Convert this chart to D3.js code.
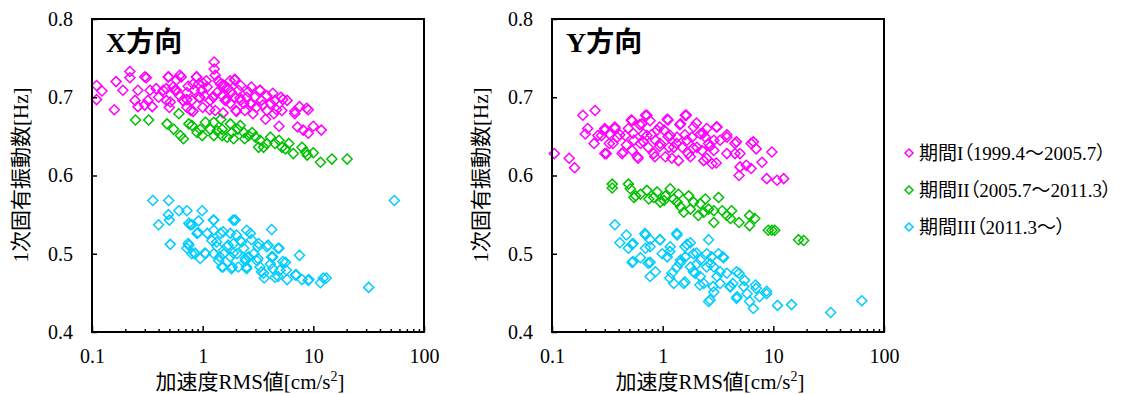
<!DOCTYPE html>
<html lang="ja">
<head>
  <meta charset="UTF-8">
  <title>1次固有振動数</title>
  <script src="https://d3js.org/d3.v7.min.js"></script>
  <style>
    body { margin: 0; background: #fff; }
    text { font-family: "Liberation Serif", "Noto Sans CJK JP", serif; }
    .legend text { font-feature-settings: "palt"; }
  </style>
</head>
<body>
  <svg width="1137" height="394"></svg>

  <script>
    // 期間ごとのデータ [加速度RMS値, 1次固有振動数]
    const xPeriod1 = [
      [0.11,0.715],[0.123,0.708],[0.11,0.697],[0.159,0.684],[0.165,0.72],[0.19,0.709],[0.22,0.733],[0.22,0.725],
      [0.245,0.696],[0.26,0.709],[0.26,0.688],[0.30,0.726],[0.31,0.725],[0.30,0.69],[0.32,0.696],[0.35,0.688],
      [0.335,0.709],[0.40,0.70],[0.44,0.709],[0.49,0.726],[0.47,0.696],[0.50,0.687],[0.56,0.709],[0.58,0.722],
      [0.64,0.726],[0.66,0.696],[0.72,0.706],[0.78,0.683],[0.80,0.696],[0.88,0.726],[0.92,0.717],[0.94,0.70],
      [1.0,0.687],[0.98,0.709],[1.1,0.713],[1.17,0.696],[1.27,0.745],[1.27,0.736],[1.30,0.728],[1.38,0.721],
      [1.35,0.706],[1.30,0.683],[1.50,0.702],[1.57,0.713],[1.77,0.692],[1.70,0.711],[1.95,0.723],[1.95,0.70],
      [2.0,0.683],[2.2,0.715],[2.2,0.696],[2.4,0.683],[2.5,0.70],[2.7,0.692],[2.85,0.679],[3.05,0.687],
      [3.3,0.709],[3.4,0.696],[3.8,0.702],[3.8,0.683],[3.7,0.672],[4.4,0.679],[4.5,0.696],[4.9,0.663],
      [5.1,0.70],[5.8,0.696],[5.2,0.683],[6.8,0.679],[7.5,0.688],[7.2,0.662],[8.1,0.658],[9.0,0.684],
      [9.0,0.654],[10,0.663],[11.8,0.658],
      [0.72,0.687],[0.82,0.717],[1.08,0.721],[1.25,0.70],[1.45,0.717],[1.6,0.696],[1.82,0.706],[2.1,0.709],
      [2.35,0.692],[2.75,0.713],[1.04,0.702],[0.38,0.711],[0.54,0.713],[0.62,0.702],[0.84,0.709],[1.77,0.721],
      [2.95,0.70],[4.1,0.692],
      [0.49,0.726],[0.62,0.728],[0.88,0.726],[0.47,0.711],[0.58,0.709],[0.74,0.714],[1.01,0.718],[1.53,0.716],
      [1.95,0.722],[2.58,0.707],[3.3,0.709],[4.3,0.705],[5.3,0.697],[0.51,0.694],[0.72,0.697],[0.94,0.699],
      [1.25,0.701],[1.64,0.697],[2.17,0.699],[2.77,0.692],[3.5,0.690],[4.65,0.684],[0.82,0.682],[1.16,0.684],
      [1.53,0.680],[2.02,0.682],[6.8,0.682],[8.7,0.686]
    ];
    const xPeriod2 = [
      [0.247,0.671],[0.325,0.671],[0.476,0.666],[0.547,0.659],[0.61,0.679],[0.63,0.651],[0.75,0.666],[0.80,0.664],
      [0.95,0.659],[0.99,0.651],[1.06,0.668],[1.17,0.659],[1.26,0.668],[1.46,0.672],[1.5,0.659],[1.5,0.651],
      [1.78,0.666],[1.84,0.655],[1.9,0.647],[2.07,0.659],[2.19,0.664],[2.35,0.655],[2.4,0.647],[2.6,0.651],
      [3.0,0.649],[3.2,0.636],[3.3,0.645],[3.8,0.641],[4.1,0.649],[4.5,0.641],[4.9,0.645],[5.2,0.636],
      [6.0,0.641],[6.6,0.628],[7.9,0.636],[8.5,0.630],[8.8,0.626],[10,0.629],[11.6,0.617],[14.7,0.621],
      [20.2,0.621],
      [0.67,0.647],[0.89,0.655],[1.35,0.657],[1.66,0.649],[2.8,0.655],[3.55,0.636],[5.6,0.634],[1.26,0.651]
    ];
    const xPeriod3 = [
      [0.355,0.568],[0.493,0.568],[0.40,0.537],[0.49,0.550],[0.50,0.543],[0.51,0.512],[0.61,0.555],[0.72,0.555],
      [0.75,0.539],[0.75,0.511],[0.80,0.537],[0.80,0.50],[0.89,0.526],[0.92,0.542],[0.99,0.555],[0.95,0.494],
      [1.06,0.50],[1.21,0.517],[1.26,0.543],[1.26,0.50],[1.45,0.526],[1.53,0.483],[1.66,0.509],[1.78,0.526],
      [1.85,0.483],[1.97,0.543],[2.04,0.50],[2.19,0.517],[2.43,0.491],[2.5,0.483],[2.7,0.526],[2.9,0.50],
      [3.2,0.513],[3.3,0.483],[3.55,0.475],[3.8,0.509],[4.2,0.531],[4.1,0.487],[4.5,0.47],[4.9,0.507],
      [5.0,0.479],[5.6,0.489],[5.8,0.467],[6.9,0.473],[7.5,0.498],[7.9,0.467],[9.1,0.467],[11.6,0.463],
      [13.1,0.469],[31.6,0.457],[54,0.568],
      [1.35,0.509],[1.55,0.50],[1.78,0.496],[1.9,0.513],[2.35,0.507],[2.6,0.496],[1.4,0.491],[1.1,0.526],
      [0.72,0.507],[0.85,0.50],[3.1,0.491],[4.3,0.496],[2.1,0.483],[1.26,0.530],
      [0.77,0.537],[0.91,0.527],[1.25,0.543],[1.89,0.543],[1.53,0.528],[2.02,0.524],[2.5,0.530],[1.34,0.515],
      [1.7,0.511],[2.25,0.515],[2.77,0.518],[3.16,0.509],[3.9,0.511],[4.8,0.507],[0.74,0.513],[0.85,0.501],
      [1.05,0.501],[1.43,0.496],[1.89,0.501],[2.42,0.494],[3.16,0.494],[4.2,0.496],[5.3,0.490],[1.49,0.483],
      [1.82,0.481],[2.5,0.481],[3.4,0.477],[4.3,0.481],[5.7,0.479],[7.0,0.473],[9.0,0.466],[12.3,0.469],
      [4.8,0.471],[3.6,0.469]
    ];
    const yPeriod1 = [
      [0.105,0.628],[0.143,0.622],[0.16,0.610],[0.19,0.677],[0.245,0.683],[0.20,0.653],[0.21,0.66],[0.24,0.641],
      [0.26,0.651],[0.30,0.66],[0.30,0.628],[0.355,0.641],[0.37,0.66],[0.43,0.628],[0.46,0.651],[0.49,0.66],
      [0.53,0.670],[0.59,0.624],[0.63,0.641],[0.65,0.666],[0.70,0.677],[0.72,0.651],[0.77,0.670],[0.83,0.628],
      [0.89,0.658],[0.95,0.641],[1.06,0.624],[1.1,0.672],[1.17,0.651],[1.26,0.636],[1.39,0.619],[1.45,0.666],
      [1.6,0.677],[1.66,0.645],[1.78,0.624],[1.9,0.662],[2.04,0.636],[2.19,0.653],[2.35,0.619],[2.5,0.66],
      [2.6,0.641],[2.8,0.615],[2.9,0.632],[3.1,0.662],[3.3,0.645],[3.8,0.649],[3.8,0.628],[4.5,0.641],
      [5.0,0.628],[5.0,0.611],[4.9,0.60],[6.3,0.641],[6.3,0.609],[7.0,0.634],[7.9,0.617],[8.7,0.596],
      [9.7,0.630],[10.8,0.594],[12.4,0.596],
      [0.28,0.651],[0.33,0.653],[0.39,0.649],[0.55,0.645],[0.67,0.653],[0.86,0.645],[1.03,0.658],[1.14,0.636],
      [1.35,0.649],[1.5,0.636],[1.84,0.649],[2.27,0.632],[2.43,0.649],[2.9,0.645],[0.74,0.636],[0.53,0.632],
      [0.52,0.671],[0.72,0.677],[1.12,0.671],[1.64,0.677],[0.30,0.658],[0.37,0.662],[0.62,0.665],[0.94,0.662],
      [1.43,0.665],[2.02,0.667],[3.05,0.662],[0.41,0.652],[0.54,0.654],[0.79,0.652],[1.12,0.650],[1.59,0.652],
      [2.32,0.654],[3.8,0.652],[4.65,0.643],[0.33,0.641],[0.47,0.639],[0.67,0.643],[0.94,0.637],[1.34,0.641],
      [1.89,0.635],[2.68,0.637],[6.6,0.643],[0.31,0.628],[0.44,0.630],[0.60,0.622],[0.85,0.624],[1.21,0.622],
      [1.70,0.628],[2.5,0.622],[3.05,0.616],[4.5,0.628],[5.7,0.613]
    ];
    const yPeriod2 = [
      [0.35,0.589],[0.35,0.584],[0.49,0.589],[0.51,0.583],[0.55,0.572],[0.63,0.576],[0.72,0.581],[0.75,0.570],
      [0.89,0.579],[0.95,0.566],[1.06,0.574],[1.17,0.583],[1.26,0.570],[1.39,0.576],[1.45,0.560],[1.55,0.553],
      [1.72,0.574],[1.78,0.557],[1.9,0.566],[2.1,0.549],[2.19,0.564],[2.43,0.570],[2.6,0.557],[2.9,0.540],
      [3.2,0.572],[3.45,0.555],[3.8,0.549],[4.2,0.555],[4.9,0.540],[6.1,0.549],[6.1,0.536],[6.8,0.545],
      [9.0,0.530],[9.7,0.530],[10.3,0.530],[16.9,0.518],[18.8,0.517],
      [0.83,0.572],[1.03,0.568],[1.35,0.566],[2.35,0.553],[2.9,0.555],[0.57,0.574],[4.1,0.545]
    ];
    const yPeriod3 = [
      [0.37,0.537],[0.41,0.514],[0.47,0.524],[0.49,0.507],[0.53,0.512],[0.53,0.489],[0.63,0.495],[0.70,0.524],
      [0.70,0.507],[0.77,0.518],[0.77,0.489],[0.77,0.471],[0.86,0.477],[0.95,0.518],[0.99,0.50],[1.17,0.509],
      [1.21,0.475],[1.26,0.462],[1.35,0.524],[1.45,0.492],[1.55,0.462],[1.66,0.512],[1.78,0.483],[1.9,0.50],
      [1.97,0.475],[2.19,0.492],[2.35,0.462],[2.6,0.518],[2.6,0.439],[2.7,0.487],[2.9,0.451],[3.1,0.471],
      [3.55,0.495],[3.8,0.475],[4.1,0.458],[4.7,0.445],[4.9,0.475],[5.4,0.458],[5.8,0.449],[6.6,0.430],
      [6.9,0.460],[7.5,0.445],[8.7,0.449],[10.9,0.434],[14.6,0.435],[33,0.425],[63,0.440],
      [1.1,0.496],[1.35,0.483],[1.6,0.496],[2.04,0.487],[2.19,0.471],[2.9,0.483],[3.3,0.462],[4.3,0.462],
      [1.78,0.514],[2.5,0.50],[3.2,0.50],
      [0.69,0.526],[0.94,0.518],[1.34,0.526],[0.54,0.513],[0.77,0.509],[1.16,0.503],[1.59,0.509],[2.02,0.501],
      [2.77,0.496],[3.5,0.496],[0.54,0.490],[0.74,0.488],[1.43,0.488],[1.89,0.477],[2.5,0.483],[3.3,0.477],
      [4.65,0.477],[1.16,0.469],[1.59,0.464],[2.17,0.460],[2.85,0.458],[4.05,0.458],[5.5,0.466],[7.0,0.456],
      [2.68,0.441],[4.65,0.443],[6.1,0.439],[8.7,0.452]
    ];

    const seriesNames = ['期間I（1999.4～2005.7）', '期間II（2005.7～2011.3）', '期間III（2011.3～）'];
    const seriesColors = ['#ff00ff', '#00c000', '#00ccff'];
    const panelTitles = ['X方向', 'Y方向'];
    const xTicks = [0.1, 1, 10, 100];
    const yTicks = [0.4, 0.5, 0.6, 0.7, 0.8];

    const panels = [
      { title: panelTitles[0], series: [xPeriod1, xPeriod2, xPeriod3], dx: 0 },
      { title: panelTitles[1], series: [yPeriod1, yPeriod2, yPeriod3], dx: 460 }
    ];

    const svg = d3.select('svg');
    const plotL = 92, plotR = 424, plotT = 19, plotB = 332;
    const diamond = 'M0,-5L5,0L0,5L-5,0Z';

    const x = d3.scaleLog().domain([0.1, 100]).range([plotL, plotR]);
    const y = d3.scaleLinear().domain([0.4, 0.8]).range([plotB, plotT]);

    // minor ticks 2..9 in each decade
    const minorTicks = [];
    [0.1, 1, 10].forEach(d => { for (let k = 2; k <= 9; k++) minorTicks.push(d * k); });

    panels.forEach(p => {
      const g = svg.append('g').attr('transform', `translate(${p.dx},0)`);

      // points
      p.series.forEach((data, i) => {
        g.append('g').selectAll('path')
          .data(data)
          .enter().append('path')
          .attr('d', diamond)
          .attr('transform', d => `translate(${x(d[0])},${y(d[1])})`)
          .attr('fill', 'none')
          .attr('stroke', seriesColors[i])
          .attr('stroke-width', 1.5);
      });

      // y axis
      const ya = g.append('g').attr('transform', `translate(${plotL},0)`)
        .call(d3.axisLeft(y).tickValues(yTicks).tickSize(-5).tickPadding(19).tickFormat(d3.format('.1f')));
      ya.select('.domain').remove();

      // x axis major + minor
      const xa = g.append('g').attr('transform', `translate(0,${plotB})`)
        .call(d3.axisBottom(x).tickValues(xTicks).tickSize(-6).tickPadding(17).tickFormat(d => String(d)));
      xa.select('.domain').remove();
      const xm = g.append('g').attr('transform', `translate(0,${plotB})`)
        .call(d3.axisBottom(x).tickValues(minorTicks).tickSize(-3).tickFormat(''));
      xm.select('.domain').remove();

      g.selectAll('.tick text').attr('font-size', 20).attr('fill', '#000')
        .style('font-family', '"Liberation Serif", serif');
      g.selectAll('.tick line').attr('stroke', '#000').attr('stroke-width', 1.5);

      // frame
      g.append('rect')
        .attr('x', plotL).attr('y', plotT)
        .attr('width', plotR - plotL).attr('height', plotB - plotT)
        .attr('fill', 'none').attr('stroke', '#000').attr('stroke-width', 2);

      // panel title
      g.append('text')
        .attr('x', 106).attr('y', 52)
        .attr('font-size', 28).attr('font-weight', 'bold')
        .text(p.title);

      // axis titles
      const xt = g.append('text')
        .attr('x', 250).attr('y', 389)
        .attr('text-anchor', 'middle')
        .attr('font-size', 21);
      xt.append('tspan').text('加速度RMS値[cm/s');
      xt.append('tspan').attr('font-size', 14).attr('dy', -8).text('2');
      xt.append('tspan').attr('dy', 8).text(']');

      g.append('text')
        .attr('transform', 'translate(28,175) rotate(-90)')
        .attr('text-anchor', 'middle')
        .attr('font-size', 21)
        .text('1次固有振動数[Hz]');
    });

    // legend
    const legend = svg.append('g').attr('class', 'legend');
    seriesNames.forEach((name, i) => {
      const ly = 153 + i * 37;
      legend.append('path')
        .attr('d', 'M0,-4L4,0L0,4L-4,0Z')
        .attr('transform', `translate(909,${ly})`)
        .attr('fill', 'none')
        .attr('stroke', seriesColors[i])
        .attr('stroke-width', 1.5);
      legend.append('text')
        .attr('x', 919).attr('y', ly)
        .attr('dy', '0.35em')
        .attr('font-size', 19)
        .text(name);
    });
  </script>
</body>
</html>
